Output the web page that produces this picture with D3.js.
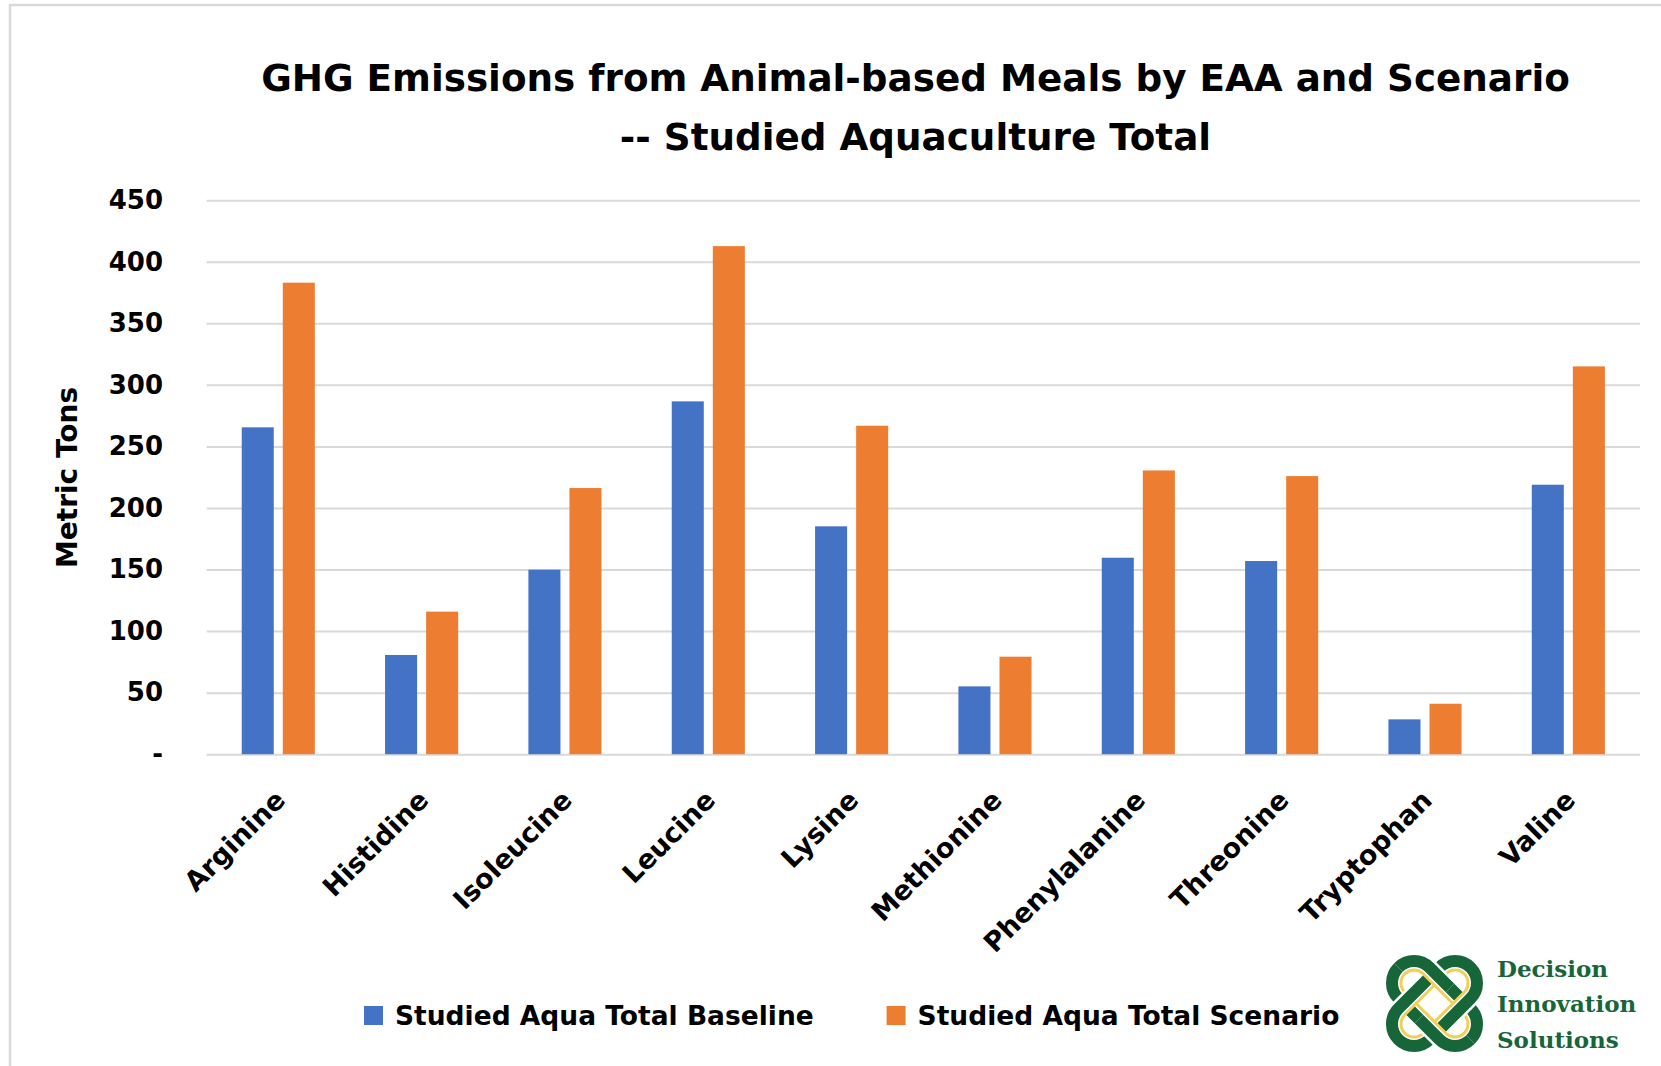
<!DOCTYPE html>
<html>
<head>
<meta charset="utf-8">
<script src="https://cdn.jsdelivr.net/npm/d3@7/dist/d3.min.js"></script>
<style>
  body { margin: 0; background: #fff; }
  text { font-family: "DejaVu Sans", sans-serif; fill: #000; }
</style>
</head>
<body>
<svg id="chart" width="1661" height="1066"></svg>
<script>
// data (metric tons)
const aminoAcids = ["Arginine", "Histidine", "Isoleucine", "Leucine", "Lysine",
  "Methionine", "Phenylalanine", "Threonine", "Tryptophan", "Valine"];
const seriesNames = ["Studied Aqua Total Baseline", "Studied Aqua Total Scenario"];
const baseline = [265.5, 80.6, 149.9, 286.6, 185.1, 55.1, 159.6, 156.9, 28.3, 218.9];
const scenario = [383, 115.8, 216.2, 412.7, 266.8, 79.2, 230.5, 225.9, 41, 315];
const yTicks = [0, 50, 100, 150, 200, 250, 300, 350, 400, 450];
const titleLines = ["GHG Emissions from Animal-based Meals by EAA and Scenario",
  "-- Studied Aquaculture Total"];
const logoWords = ["Decision", "Innovation", "Solutions"];

const colors = ["#4472C4", "#ED7D31"];
const grid = "#d9d9d9";
const green = "#17663a", yellow = "#f2cf58";

const svg = d3.select("#chart");
const plotL = 206.6, plotR = 1640, plotT = 200.2, plotB = 754.2;

// chart frame (only top/left edges visible in the crop)
svg.append("rect")
  .attr("x", 10).attr("y", 5)
  .attr("width", 1700).attr("height", 1100)
  .attr("fill", "none").attr("stroke", grid).attr("stroke-width", 2.5);

const x0 = d3.scaleBand().domain(aminoAcids).range([plotL, plotR])
  .paddingInner(0.49).paddingOuter(0.245);
const x1 = d3.scaleBand().domain(seriesNames).range([0, x0.bandwidth()])
  .paddingInner(0.22);
const y = d3.scaleLinear().domain([0, 450]).range([plotB, plotT]);

// gridlines
svg.append("g")
  .attr("transform", `translate(${plotL},0)`)
  .call(d3.axisLeft(y).tickValues(yTicks).tickSize(-(plotR - plotL)).tickFormat(""))
  .call(g => g.select(".domain").remove())
  .call(g => g.selectAll("line").attr("stroke", grid).attr("stroke-width", 2));

// y tick labels
svg.append("g")
  .attr("transform", `translate(${plotL},0)`)
  .call(d3.axisLeft(y).tickValues(yTicks).tickSize(0).tickPadding(43.6)
    .tickFormat(d => d === 0 ? "-" : d))
  .call(g => g.select(".domain").remove())
  .call(g => g.selectAll("text")
    .style("font-family", "DejaVu Sans").style("font-weight", "bold")
    .style("font-size", "26px").attr("fill", "#000"));

// bars
const rows = aminoAcids.map((a, i) => ({ name: a, values: [baseline[i], scenario[i]] }));
svg.append("g").selectAll("g")
  .data(rows)
  .join("g")
  .attr("transform", d => `translate(${x0(d.name)},0)`)
  .selectAll("rect")
  .data(d => d.values.map((v, k) => ({ key: seriesNames[k], v: v, k: k })))
  .join("rect")
  .attr("x", d => x1(d.key))
  .attr("width", x1.bandwidth())
  .attr("y", d => y(d.v))
  .attr("height", d => y(0) - y(d.v))
  .attr("fill", d => colors[d.k]);

// x labels
svg.append("g")
  .attr("transform", `translate(0,${plotB})`)
  .call(d3.axisBottom(x0).tickSize(0))
  .call(g => g.select(".domain").remove())
  .call(g => g.selectAll("text")
    .attr("x", 0).attr("y", 0).attr("dy", "0.35em")
    .attr("text-anchor", "end")
    .attr("transform", "translate(2,41) rotate(-45)")
    .style("font-family", "DejaVu Sans").style("font-weight", "bold")
    .style("font-size", "27px").attr("fill", "#000"));

// y axis title
svg.append("text")
  .attr("transform", "translate(67.5,477.5) rotate(-90)")
  .attr("text-anchor", "middle")
  .attr("dominant-baseline", "central")
  .style("font-size", "28px").style("font-weight", "bold")
  .text("Metric Tons");

// title
svg.append("g").selectAll("text")
  .data(titleLines)
  .join("text")
  .attr("x", 915.5)
  .attr("y", (d, i) => 91 + i * 59)
  .attr("text-anchor", "middle")
  .style("font-size", "37.3px").style("font-weight", "bold")
  .text(d => d);

// legend
const legendX = [364, 886.6];
const legend = svg.append("g").selectAll("g")
  .data(seriesNames)
  .join("g")
  .attr("transform", (d, i) => `translate(${legendX[i]},1006)`);
legend.append("rect")
  .attr("width", 19).attr("height", 19)
  .attr("fill", (d, i) => colors[i]);
legend.append("text")
  .attr("x", 31).attr("y", 19)
  .style("font-size", "26.5px").style("font-weight", "bold")
  .text(d => d);

// logo: two interlaced loops + wordmark
const logo = svg.append("g").attr("transform", "translate(1434.5,1003.5)");
const pillL = 114, pillW = 56, band = 12;

function loop(g, angle) {
  const w = pillW - band, l = pillL - band;
  const r = pillW / 2 - band - 3;
  g.append("rect")
    .attr("x", -l / 2).attr("y", -w / 2).attr("width", l).attr("height", w)
    .attr("rx", w / 2).attr("transform", `rotate(${angle})`)
    .attr("fill", "none").attr("stroke", "#fff").attr("stroke-width", band + 5);
  g.append("rect")
    .attr("x", -l / 2).attr("y", -w / 2).attr("width", l).attr("height", w)
    .attr("rx", w / 2).attr("transform", `rotate(${angle})`)
    .attr("fill", "none").attr("stroke", green).attr("stroke-width", band);
  g.append("rect")
    .attr("x", -(pillL / 2 - pillW / 2 + r)).attr("y", -r)
    .attr("width", 2 * (pillL / 2 - pillW / 2 + r)).attr("height", 2 * r)
    .attr("rx", r).attr("transform", `rotate(${angle})`)
    .attr("fill", "none").attr("stroke", yellow).attr("stroke-width", 3);
}

svg.append("defs").append("clipPath").attr("id", "knotClip")
  .append("path").attr("d", "M-60,-60L60,-60L0,0ZM-60,60L60,60L0,0Z");

loop(logo.append("g"), 45);
loop(logo.append("g"), -45);
loop(logo.append("g").attr("clip-path", "url(#knotClip)"), 45);

svg.append("g").selectAll("text")
  .data(logoWords)
  .join("text")
  .attr("x", 1497)
  .attr("y", (d, i) => 977 + i * 35.3)
  .style("font-family", "DejaVu Serif").style("font-weight", "bold")
  .style("font-size", "23px").style("fill", green)
  .text(d => d);
</script>
</body>
</html>
